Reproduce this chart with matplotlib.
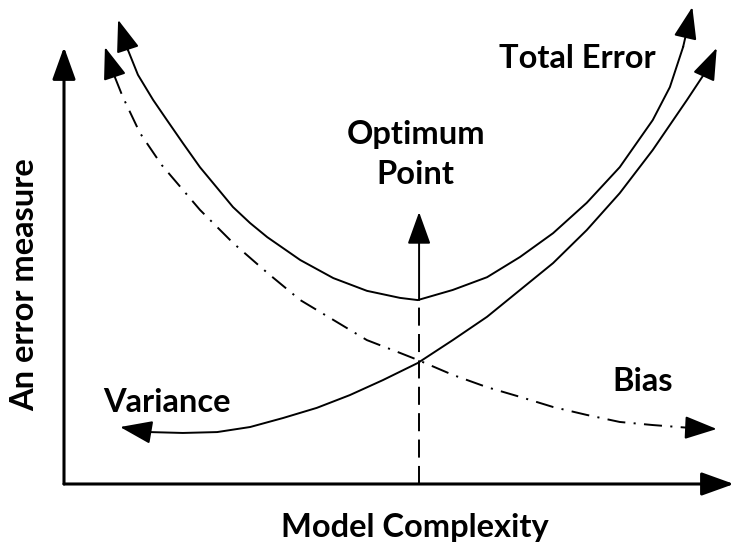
import matplotlib
matplotlib.use('Agg')
import matplotlib.pyplot as plt

plt.rcParams['lines.scale_dashes'] = False

# ---- data (model complexity c, error measure e) ----
total_c = [8.2, 9.7, 11.2, 13.5, 15.6, 18.0, 20.6, 23.2, 25.6, 28.2, 30.8, 35.8, 40.8,
           45.9, 50.9, 53.6, 58.9, 64.1, 69.1, 74.1, 79.2, 84.2, 89.2, 91.8, 93.8, 95.2]
total_e = [105.5, 98.6, 93.0, 87.3, 82.7, 77.5, 72.0, 67.3, 62.95, 59.3, 56.1, 50.9, 46.8,
           43.9, 42.3, 41.8, 44.1, 47.0, 51.6, 57.0, 63.9, 72.0, 82.7, 90.2, 99.3, 108.4]

var_c = [8.5, 13.0, 18.0, 23.2, 28.2, 33.2, 38.3, 43.3, 48.3, 53.6, 58.9, 64.1, 69.1,
         74.1, 79.2, 84.2, 89.2, 94.4, 97.4, 98.9]
var_e = [12.95, 11.8, 11.6, 11.8, 12.95, 15.0, 17.3, 20.2, 23.6, 27.5, 32.7, 38.0, 44.1,
         50.2, 57.7, 66.1, 75.9, 87.3, 94.1, 99.1]

bias_c = [6.2, 7.7, 8.9, 11.5, 14.8, 20.6, 25.6, 30.8, 35.8, 40.8, 45.9, 50.9, 53.6,
          58.9, 64.1, 69.1, 74.1, 79.2, 84.2, 89.2, 94.4, 98.9]
bias_e = [99.3, 92.5, 88.0, 79.8, 72.5, 62.3, 54.8, 48.0, 41.8, 37.3, 32.7, 29.8, 28.2,
          24.8, 22.0, 19.8, 17.5, 15.7, 14.1, 13.4, 12.8, 12.5]

optimum_c = 53.8
optimum_min = 41.8
optimum_tip = 61.8
yaxis_top = 99.3
xaxis_right = 101.5

labels = {
    'Total Error': (77.7, 96.8),
    'Optimum\nPoint': (53.3, 74.8),
    'Variance': (15.6, 18.6),
    'Bias': (87.7, 23.2),
}
xlabel = 'Model Complexity'
ylabel = 'An error measure'

# ---- drawing ----
FONT = 'Lato'
FS = 23.5
fig = plt.figure(figsize=(7.37, 5.54), dpi=100)
ax = fig.add_axes([0, 0, 1, 1])
ax.set_xlim(-9.697, 101.97)
ax.set_ylim(-15.91, 110)
ax.axis('off')

HEAD = '-|>,head_length=1.0,head_width=0.36'


def arrow(xy, xytext, lw=1.4):
    ax.annotate('', xy=xy, xytext=xytext,
                arrowprops=dict(arrowstyle=HEAD, mutation_scale=20, lw=lw,
                                color='black', shrinkA=0, shrinkB=0))


# axes
arrow((0, yaxis_top), (0, 0), lw=2.2)
arrow((xaxis_right, 0), (0, 0), lw=2.2)

# total error (arrows at both ends)
ax.plot(total_c[1:-1], total_e[1:-1], color='black', lw=1.4)
arrow((total_c[0], total_e[0]), (total_c[1], total_e[1]))
arrow((total_c[-1], total_e[-1]), (total_c[-2], total_e[-2]))

# variance
ax.plot(var_c[1:-1], var_e[1:-1], color='black', lw=1.4)
arrow((var_c[0], var_e[0]), (var_c[1], var_e[1]))
arrow((var_c[-1], var_e[-1]), (var_c[-2], var_e[-2]))

# bias (dash-dot)
ln, = ax.plot(bias_c[1:-1], bias_e[1:-1], color='black', lw=1.4)
ln.set_dashes([13, 6, 1.5, 6])
arrow((bias_c[0], bias_e[0]), (bias_c[1], bias_e[1]))
arrow((bias_c[-1], bias_e[-1]), (bias_c[-2], bias_e[-2]))

# optimum point
ln2, = ax.plot([optimum_c, optimum_c], [0, optimum_min], color='black', lw=1.4)
ln2.set_dashes([13, 6])
arrow((optimum_c, optimum_tip), (optimum_c, optimum_min))

for txt, (cx, ey) in labels.items():
    ax.text(cx, ey, txt, fontsize=FS, fontweight='bold', family=FONT,
            ha='center', va='center', linespacing=1.45)

ax.text(53.2, -9.8, xlabel, fontsize=FS, fontweight='bold', family=FONT,
        ha='center', va='center')
ax.text(-5.9, 45.2, ylabel, fontsize=FS, fontweight='bold', family=FONT,
        ha='center', va='center', rotation=90)

fig.savefig('out.png', dpi=100)
